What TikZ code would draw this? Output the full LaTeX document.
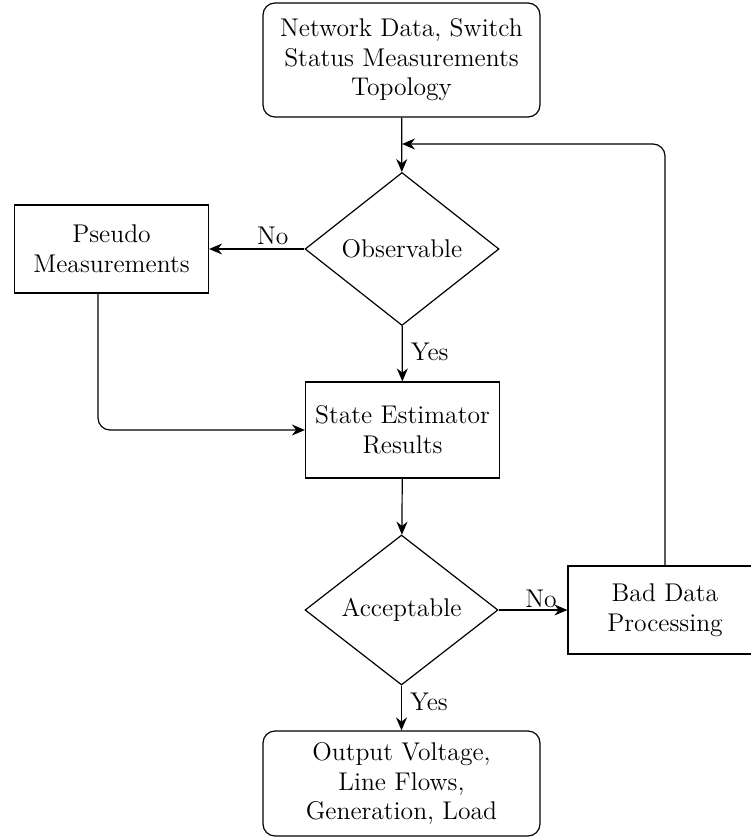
\documentclass[tikz,border=0pt]{standalone}
\usetikzlibrary{shapes.geometric,arrows.meta}

\tikzset{
  termbox/.style={draw, rounded corners=6pt, minimum width=138.5pt, align=center, inner sep=0pt},
  procbox/.style={draw, minimum width=97pt, minimum height=44pt, align=center, inner sep=0pt},
  decide/.style={draw, diamond, minimum width=97pt, minimum height=76.5pt, inner sep=0pt},
  flow/.style={-{Stealth[length=6.5pt,width=5.5pt]}},
  lbl/.style={inner sep=1pt}
}

\begin{document}
\begin{tikzpicture}[x=0.5pt,y=-0.5pt,line width=0.6pt,
  every node/.style={font=\fontsize{12.8}{14.8}\selectfont}]
  \useasboundingbox (0,0) rectangle (750,839);

  \node[termbox, minimum height=57pt] (input) at (401.5,60) {Network Data, Switch\\Status Measurements\\Topology};
  \node[decide] (observe) at (402,249) {Observable};
  \node[procbox] (pseudo) at (111.5,249) {Pseudo\\Measurements};
  \node[procbox, minimum height=48pt] (estim) at (402.5,430) {State Estimator\\Results};
  \node[decide, minimum width=96.5pt, minimum height=75pt] (accept) at (401.5,610) {Acceptable};
  \node[procbox] (baddata) at (665,610) {Bad Data\\Processing};
  \node[termbox, minimum height=52.5pt] (output) at (401.5,783.5) {Output Voltage,\\Line Flows,\\Generation, Load};

  \coordinate (join) at (402,144);
  \coordinate (pseudoleg) at (98,293);

  \draw[flow] (input) -- (observe);
  \draw[flow] (observe) -- node[lbl, above, xshift=8pt, yshift=1pt] {No} (pseudo);
  \draw[flow] (observe) -- node[lbl, right, xshift=3pt, yshift=1pt] {Yes} (estim);
  \draw[flow, rounded corners=6pt] (pseudoleg) |- (estim.west);
  \draw[flow] (estim) -- (accept);
  \draw[flow] (accept) -- node[lbl, above, xshift=4pt] {No} (baddata);
  \draw[flow] (accept) -- node[lbl, right, xshift=3pt, yshift=3pt] {Yes} (output);
  \draw[flow, rounded corners=6pt] (baddata.north) |- (join);
\end{tikzpicture}
\end{document}
